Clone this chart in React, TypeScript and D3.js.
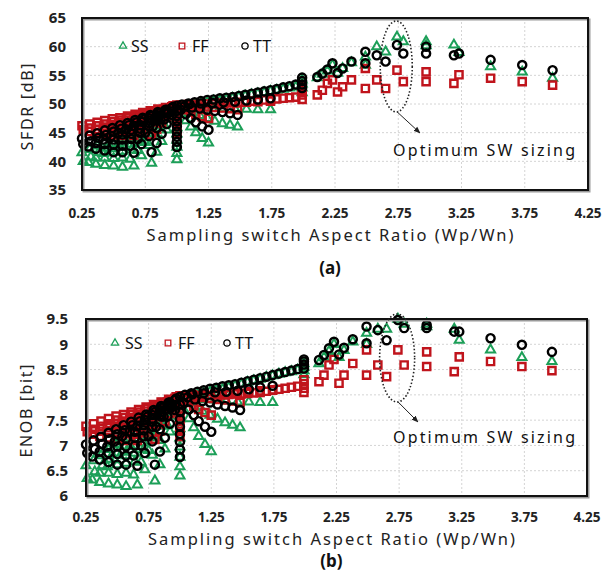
import React from 'react'
import * as d3 from 'd3'

// x position of every device (Wp/Wn), shared by both panels
const aspectRatio = [
  0.25, 0.31, 0.37, 0.43, 0.49, 0.55, 0.61, 0.67, 0.73, 0.79, 0.85, 0.91, 0.97,
  0.26, 0.32, 0.38, 0.44, 0.50, 0.56, 0.62, 0.68, 0.74, 0.80, 0.86, 0.92,
  0.30, 0.36, 0.42, 0.48, 0.54, 0.60, 0.66, 0.72, 0.78, 0.84, 0.90, 0.96,
  0.36, 0.43, 0.50, 0.57, 0.64, 0.71, 0.78, 0.85, 0.92,
  0.43, 0.50, 0.57, 0.64, 0.71, 0.78, 0.85, 0.92,
  0.50, 0.57, 0.64, 0.71, 0.78, 0.85, 0.92,
  0.57, 0.63, 0.69, 0.75, 0.81, 0.87, 0.93,
  0.66, 0.72, 0.78, 0.84, 0.90, 0.96,
  0.80, 0.84, 0.88, 0.92, 0.96,
  1.00, 1.00, 1.00, 1.00, 1.00, 1.00, 1.00, 1.00, 1.00,
  1.04, 1.09, 1.14, 1.19, 1.24, 1.29, 1.34, 1.39, 1.44, 1.49, 1.54, 1.59, 1.64, 1.69, 1.74, 1.79, 1.84, 1.89, 1.94,
  1.03, 1.07, 1.11, 1.15, 1.20, 1.25,
  1.06, 1.12, 1.18, 1.24, 1.30, 1.36, 1.42, 1.48,
  1.10, 1.19, 1.28, 1.37, 1.46, 1.55, 1.64, 1.74,
  1.99, 1.99, 1.99, 1.99,
  2.11, 2.15, 2.19, 2.23, 2.27, 2.31, 2.38, 2.49, 2.49, 2.58, 2.65, 2.74, 2.79, 2.97, 2.97, 3.19, 3.23, 3.48, 3.73, 3.97,
]

// (a) SFDR [dB]
const sfdrSS = [
  41.5, 42.1, 42.7, 43.4, 44.0, 44.6, 45.2, 45.9, 46.5, 47.1, 47.7, 48.4, 49.0,
  40.0, 40.8, 41.5, 42.3, 43.0, 43.8, 44.5, 45.3, 46.0, 46.8, 47.5, 48.3,
  39.8, 40.6, 41.4, 42.2, 43.1, 43.9, 44.7, 45.5, 46.3, 47.1, 47.9, 48.8,
  39.5, 40.6, 41.6, 42.7, 43.8, 44.9, 45.9, 47.0, 48.1,
  39.3, 40.5, 41.8, 43.0, 44.2, 45.4, 46.7, 47.9,
  39.2, 40.6, 42.0, 43.4, 44.9, 46.3, 47.7,
  39.0, 40.4, 41.9, 43.3, 44.8, 46.2, 47.7,
  39.2, 41.0, 42.8, 44.5, 46.3, 48.1,
  39.7, 41.6, 43.5, 45.5, 47.4,
  49.3, 48.2, 47.1, 45.9, 44.8, 43.7, 42.5, 41.4, 40.3,
  49.5, 49.7, 49.9, 50.1, 50.3, 50.5, 50.6, 50.8, 51.0, 51.2, 51.4, 51.6, 51.8, 52.0, 52.2, 52.4, 52.6, 52.8, 53.0,
  48.2, 47.1, 46.0, 45.0, 44.0, 43.2,
  49.0, 48.5, 48.0, 47.5, 47.0, 46.6, 46.3, 46.0,
  49.5, 49.4, 49.3, 49.2, 49.1, 49.1, 49.0, 49.0,
  54.2, 53.5, 52.8, 52.0,
  54.6, 55.2, 55.8, 56.8, 55.4, 56.2, 57.2, 58.2, 56.8, 60.0, 59.1, 61.7, 60.9, 60.9, 60.2, 60.3, 59.0, 56.5, 55.6, 54.5,
]
const sfdrFF = [
  46.2, 46.5, 46.8, 47.1, 47.4, 47.6, 47.9, 48.2, 48.5, 48.8, 49.1, 49.4, 49.7,
  45.5, 45.8, 46.2, 46.5, 46.9, 47.2, 47.6, 47.9, 48.3, 48.6, 49.0, 49.3,
  45.2, 45.6, 46.0, 46.4, 46.8, 47.2, 47.6, 48.0, 48.4, 48.7, 49.1, 49.5,
  45.0, 45.5, 46.1, 46.6, 47.1, 47.6, 48.1, 48.7, 49.2,
  44.8, 45.4, 46.0, 46.6, 47.3, 47.9, 48.5, 49.1,
  44.6, 45.3, 46.1, 46.8, 47.5, 48.2, 49.0,
  44.5, 45.2, 46.0, 46.7, 47.5, 48.2, 49.0,
  44.5, 45.4, 46.4, 47.3, 48.2, 49.2,
  44.6, 45.6, 46.7, 47.7, 48.8,
  49.8, 49.2, 48.6, 48.0, 47.4, 46.8, 46.2, 45.6, 45.0,
  49.8, 49.9, 49.9, 50.0, 50.0, 50.1, 50.1, 50.2, 50.3, 50.3, 50.4, 50.5, 50.6, 50.7, 50.8, 50.9, 51.0, 51.1, 51.2,
  49.4, 49.0, 48.6, 48.2, 47.8, 47.5,
  49.8, 49.7, 49.6, 49.5, 49.4, 49.3, 49.2, 49.0,
  49.9, 50.0, 50.0, 50.1, 50.2, 50.3, 50.4, 50.5,
  53.2, 52.4, 51.6, 50.8,
  51.6, 52.4, 53.6, 54.2, 52.1, 53.0, 54.2, 56.2, 52.7, 54.2, 52.7, 55.9, 53.9, 55.6, 53.9, 53.6, 55.1, 54.5, 53.9, 53.3,
]
const sfdrTT = [
  44.0, 44.5, 44.9, 45.4, 45.8, 46.3, 46.7, 47.2, 47.6, 48.1, 48.6, 49.0, 49.5,
  43.0, 43.5, 44.1, 44.6, 45.2, 45.7, 46.3, 46.8, 47.3, 47.9, 48.4, 49.0,
  42.6, 43.2, 43.8, 44.4, 45.0, 45.6, 46.2, 46.9, 47.5, 48.1, 48.7, 49.3,
  42.2, 43.0, 43.8, 44.7, 45.5, 46.3, 47.1, 47.9, 48.8,
  41.9, 42.9, 43.8, 44.8, 45.7, 46.7, 47.6, 48.6,
  41.6, 42.7, 43.9, 45.0, 46.1, 47.3, 48.4,
  41.6, 42.7, 43.9, 45.0, 46.1, 47.3, 48.4,
  41.5, 43.0, 44.4, 45.8, 47.3, 48.7,
  41.6, 43.2, 44.8, 46.5, 48.1,
  49.7, 48.8, 47.9, 47.0, 46.1, 45.2, 44.3, 43.4, 42.5,
  49.9, 50.1, 50.3, 50.5, 50.7, 50.8, 51.0, 51.1, 51.2, 51.4, 51.6, 51.8, 52.0, 52.2, 52.4, 52.6, 52.9, 53.1, 53.4,
  49.0, 48.2, 47.5, 46.8, 46.1, 45.5,
  49.6, 49.4, 49.2, 49.0, 48.8, 48.6, 48.4, 48.1,
  50.0, 50.1, 50.2, 50.3, 50.4, 50.6, 50.8, 51.0,
  54.6, 54.0, 53.4, 52.8,
  54.7, 55.3, 56.0, 57.1, 55.4, 56.2, 57.4, 59.1, 57.1, 58.5, 57.4, 60.3, 58.8, 60.0, 58.8, 58.5, 58.8, 57.7, 56.8, 55.9,
]

// (b) ENOB [bit]
const enobSS = [
  6.60, 6.70, 6.80, 6.92, 7.02, 7.12, 7.22, 7.33, 7.43, 7.53, 7.63, 7.75, 7.85,
  6.35, 6.48, 6.60, 6.73, 6.85, 6.98, 7.10, 7.23, 7.35, 7.48, 7.60, 7.73,
  6.32, 6.45, 6.58, 6.72, 6.87, 7.00, 7.13, 7.27, 7.40, 7.53, 7.66, 7.81,
  6.27, 6.45, 6.62, 6.80, 6.98, 7.17, 7.33, 7.52, 7.70,
  6.24, 6.43, 6.65, 6.85, 7.05, 7.25, 7.47, 7.66,
  6.22, 6.45, 6.68, 6.92, 7.17, 7.40, 7.63,
  6.19, 6.42, 6.67, 6.90, 7.15, 7.38, 7.63,
  6.22, 6.52, 6.81, 7.10, 7.40, 7.70,
  6.30, 6.62, 6.93, 7.27, 7.58,
  7.90, 7.71, 7.53, 7.33, 7.15, 6.97, 6.77, 6.58, 6.40,
  7.93, 7.96, 8.00, 8.03, 8.06, 8.10, 8.11, 8.15, 8.18, 8.21, 8.25, 8.28, 8.31, 8.35, 8.38, 8.41, 8.44, 8.46, 8.49,
  7.71, 7.53, 7.35, 7.18, 7.02, 6.88,
  7.85, 7.76, 7.68, 7.60, 7.52, 7.45, 7.40, 7.35,
  7.93, 7.91, 7.90, 7.88, 7.86, 7.86, 7.85, 7.85,
  8.62, 8.55, 8.48, 8.40,
  8.62, 8.74, 8.86, 9.00, 8.74, 8.88, 9.05, 9.22, 9.00, 9.30, 9.30, 9.50, 9.40, 9.40, 9.35, 9.30, 9.08, 8.89, 8.74, 8.66,
]
const enobFF = [
  7.38, 7.43, 7.48, 7.53, 7.58, 7.61, 7.66, 7.71, 7.76, 7.81, 7.86, 7.91, 7.96,
  7.27, 7.32, 7.38, 7.43, 7.50, 7.55, 7.61, 7.66, 7.73, 7.78, 7.85, 7.90,
  7.22, 7.28, 7.35, 7.42, 7.48, 7.55, 7.61, 7.68, 7.75, 7.80, 7.86, 7.93,
  7.18, 7.27, 7.37, 7.45, 7.53, 7.61, 7.70, 7.80, 7.88,
  7.15, 7.25, 7.35, 7.45, 7.57, 7.66, 7.76, 7.86,
  7.12, 7.23, 7.37, 7.48, 7.60, 7.71, 7.85,
  7.10, 7.22, 7.35, 7.47, 7.60, 7.71, 7.85,
  7.10, 7.25, 7.42, 7.57, 7.71, 7.88,
  7.12, 7.28, 7.47, 7.63, 7.81,
  7.98, 7.88, 7.78, 7.68, 7.58, 7.48, 7.38, 7.28, 7.18,
  7.97, 7.98, 7.98, 7.99, 7.99, 8.00, 8.00, 8.01, 8.02, 8.02, 8.03, 8.04, 8.05, 8.07, 8.09, 8.11, 8.13, 8.15, 8.17,
  7.91, 7.85, 7.78, 7.71, 7.65, 7.60,
  7.98, 7.96, 7.95, 7.93, 7.91, 7.90, 7.88, 7.85,
  8.00, 8.01, 8.01, 8.03, 8.05, 8.06, 8.08, 8.10,
  8.30, 8.22, 8.13, 8.05,
  8.26, 8.39, 8.59, 8.70, 8.23, 8.39, 8.62, 8.89, 8.39, 8.59, 8.36, 8.89, 8.59, 8.85, 8.56, 8.46, 8.75, 8.66, 8.56, 8.48,
]
const enobTT = [
  7.02, 7.10, 7.17, 7.25, 7.32, 7.40, 7.47, 7.55, 7.61, 7.70, 7.78, 7.85, 7.93,
  6.85, 6.93, 7.03, 7.12, 7.22, 7.30, 7.40, 7.48, 7.57, 7.66, 7.75, 7.85,
  6.78, 6.88, 6.98, 7.08, 7.18, 7.28, 7.38, 7.50, 7.60, 7.70, 7.80, 7.90,
  6.72, 6.85, 6.98, 7.13, 7.27, 7.40, 7.53, 7.66, 7.81,
  6.67, 6.83, 6.98, 7.15, 7.30, 7.47, 7.61, 7.78,
  6.62, 6.80, 7.00, 7.18, 7.37, 7.57, 7.75,
  6.62, 6.80, 7.00, 7.18, 7.37, 7.57, 7.75,
  6.60, 6.85, 7.08, 7.32, 7.57, 7.80,
  6.62, 6.88, 7.15, 7.43, 7.70,
  7.96, 7.81, 7.66, 7.52, 7.37, 7.22, 7.07, 6.92, 6.77,
  8.00, 8.03, 8.06, 8.09, 8.12, 8.14, 8.17, 8.19, 8.21, 8.24, 8.27, 8.30, 8.33, 8.36, 8.39, 8.42, 8.45, 8.48, 8.51,
  7.85, 7.71, 7.60, 7.48, 7.37, 7.27,
  7.95, 7.91, 7.88, 7.85, 7.81, 7.78, 7.75, 7.70,
  8.01, 8.03, 8.05, 8.06, 8.08, 8.11, 8.15, 8.18,
  8.70, 8.66, 8.60, 8.52,
  8.69, 8.79, 8.92, 9.05, 8.80, 8.93, 9.10, 9.35, 9.02, 9.28, 9.08, 9.48, 9.32, 9.38, 9.32, 9.25, 9.25, 9.12, 8.99, 8.85,
]

const xTicks = [0.25, 0.75, 1.25, 1.75, 2.25, 2.75, 3.25, 3.75, 4.25]
const sfdrTicks = [35, 40, 45, 50, 55, 60, 65]
const enobTicks = [6, 6.5, 7, 7.5, 8, 8.5, 9, 9.5]
const seriesNames = ['SS', 'FF', 'TT']

const FONT = '"Noto Sans", "DejaVu Sans", sans-serif'
const colors: Record<string, string> = { SS: '#1c9f58', FF: '#c0141c', TT: '#000000' }
const symbols: Record<string, any> = { SS: d3.symbolTriangle, FF: d3.symbolSquare, TT: d3.symbolCircle }
const markerSize: Record<string, number> = { SS: 36, FF: 52, TT: 52 }

function Marker({ name, x, y, small }: any) {
  const size = small ? markerSize[name] * 0.6 : markerSize[name]
  const d = d3.symbol().type(symbols[name]).size(size)()
  return (
    <path d={d || ''} transform={`translate(${x},${y})`} fill="none"
      stroke={colors[name]} strokeWidth={small ? 1.3 : name === 'SS' ? 2 : 2.4} />
  )
}

function Panel({ cfg }: any) {
  const { box, yDomain, yTicks, series, yLabel } = cfg
  const x = d3.scaleLinear().domain([0.25, 4.25]).range([box.left, box.right])
  const y = d3.scaleLinear().domain(yDomain).range([box.bottom, box.top])
  const midX = (box.left + box.right) / 2 - 5

  return (
    <g>
      {/* grid */}
      {xTicks.slice(1, -1).map(t => (
        <line key={'gx' + t} x1={x(t)} x2={x(t)} y1={box.top} y2={box.bottom}
          stroke="#d4d4d4" strokeDasharray="2,2" />
      ))}
      {yTicks.slice(1, -1).map((t: number) => (
        <line key={'gy' + t} x1={box.left} x2={box.right} y1={y(t)} y2={y(t)}
          stroke="#d4d4d4" strokeDasharray="2,2" />
      ))}

      {/* points */}
      {seriesNames.map(name => (
        <g key={name}>
          {aspectRatio.map((a, i) => (
            <Marker key={i} name={name} x={x(a)} y={y(series[name][i])} />
          ))}
        </g>
      ))}

      {/* frame */}
      <rect x={box.left + 1.5} y={box.top + 1.5} width={box.right - box.left} height={box.bottom - box.top}
        fill="none" stroke="#9a9a9a" strokeWidth={2} />
      <rect x={box.left} y={box.top} width={box.right - box.left} height={box.bottom - box.top}
        fill="none" stroke="#111" strokeWidth={2} />

      {/* ticks */}
      {yTicks.map((t: number) => (
        <text key={'ty' + t} x={cfg.yTickX} y={y(t)} dy="0.36em" textAnchor="end"
          fontSize={15} fontWeight="bold" fill="#222">{String(t)}</text>
      ))}
      {xTicks.map(t => (
        <text key={'tx' + t} x={x(t)} y={cfg.xTickY} textAnchor="middle"
          fontSize={13.5} fontWeight="bold" fill="#222">{t.toFixed(2)}</text>
      ))}

      {/* titles */}
      <text transform={`translate(${cfg.yLabelX},${cfg.yLabelY}) rotate(-90)`} textAnchor="middle"
        dy="0.36em" fontSize={16} fill="#222" textLength={cfg.yLabelLen} lengthAdjust="spacing">{yLabel}</text>
      <text x={midX} y={cfg.xTitleY} textAnchor="middle" fontSize={16.5} fill="#222"
        textLength={367} lengthAdjust="spacing">Sampling switch Aspect Ratio (Wp/Wn)</text>
      <text x={midX} y={cfg.captionY} textAnchor="middle" fontSize={17} fontWeight="bold" fill="#111">{cfg.caption}</text>

      {/* legend */}
      {seriesNames.map((name, i) => (
        <g key={'lg' + name}>
          <Marker name={name} x={cfg.legend[i][0]} y={cfg.legendY} small />
          <text x={cfg.legend[i][1]} y={cfg.legendY} dy="0.36em" fontSize={16} fill="#111">{name}</text>
        </g>
      ))}

      {/* annotation */}
      <ellipse cx={x(2.75) - 2} cy={cfg.ellipse[0]} rx={cfg.ellipse[1]} ry={cfg.ellipse[2]}
        fill="none" stroke="#222" strokeWidth={1.6} strokeDasharray="1.5,2" />
      <line x1={x(2.75) - 1} y1={cfg.ellipse[0] + cfg.ellipse[2]} x2={cfg.arrow[0]} y2={cfg.arrow[1]}
        stroke="#222" strokeWidth={1} markerEnd="url(#arrowHead)" />
      <text x={393} y={cfg.noteY} fontSize={16} fill="#111" textLength={182} lengthAdjust="spacing">Optimum SW sizing</text>
    </g>
  )
}

const panels = [
  {
    box: { left: 82, right: 588, top: 18, bottom: 190 },
    yDomain: [35, 65], yTicks: sfdrTicks,
    series: { SS: sfdrSS, FF: sfdrFF, TT: sfdrTT },
    yLabel: 'SFDR [dB]', yLabelX: 27, yLabelY: 107, yLabelLen: 87,
    yTickX: 66, xTickY: 218, xTitleY: 241, captionY: 274, caption: '(a)',
    legendY: 46, legend: [[123, 131], [182, 192], [245, 253]],
    ellipse: [66.5, 16, 45.5], arrow: [420, 133], noteY: 156,
  },
  {
    box: { left: 86, right: 587, top: 319, bottom: 496 },
    yDomain: [6, 9.5], yTicks: enobTicks,
    series: { SS: enobSS, FF: enobFF, TT: enobTT },
    yLabel: 'ENOB [bit]', yLabelX: 26, yLabelY: 411, yLabelLen: 93,
    yTickX: 68, xTickY: 522, xTitleY: 545, captionY: 567, caption: '(b)',
    legendY: 343, legend: [[115, 125], [168, 178], [227, 235]],
    ellipse: [358, 17.5, 44], arrow: [418, 422], noteY: 443,
  },
]

export default function App() {
  return (
    <svg width={602} height={573} style={{ position: 'absolute', left: 0, top: 0, background: '#fff' }}
      fontFamily={FONT}>
      <defs>
        <marker id="arrowHead" viewBox="0 0 10 10" refX="9" refY="5" markerWidth="7" markerHeight="7" orient="auto">
          <path d="M0,1 L10,5 L0,9 Z" fill="#222" />
        </marker>
      </defs>
      {panels.map((p, i) => <Panel key={i} cfg={p} />)}
    </svg>
  )
}
